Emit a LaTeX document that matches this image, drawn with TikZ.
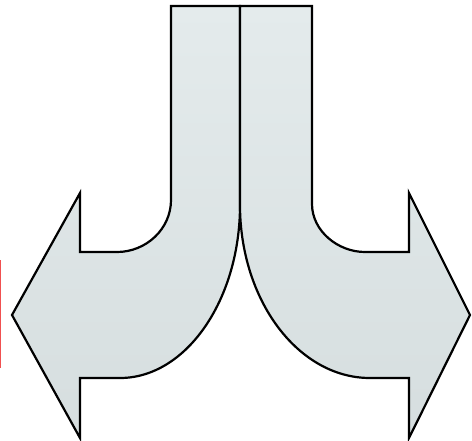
\documentclass[tikz,border=0pt]{standalone}
\definecolor{arrowfill}{RGB}{221,228,229}
\definecolor{arrowlight}{RGB}{228,235,236}
\definecolor{arrowdark}{RGB}{214,222,223}
\definecolor{redmark}{RGB}{240,80,80}
\tikzset{
  bentarrow/.style={draw=black, line width=2.2pt, line join=miter, top color=arrowlight, bottom color=arrowdark},
}
\begin{document}
\begin{tikzpicture}[x=1pt,y=-1pt]
\useasboundingbox (0,0) rectangle (472,440);
% left arrow
\path[bentarrow] (171,6) -- (240,6) -- (240,205)
  .. controls (240,300) and (186,378) .. (120,378)
  -- (80,378) -- (80,438) -- (12,315) -- (80,193) -- (80,252) -- (117,252)
  .. controls (146,252) and (171,229) .. (171,200) -- cycle;
% right arrow
\path[bentarrow] (240,6) -- (312,6) -- (312,204)
  .. controls (312,231) and (338,252) .. (365,252)
  -- (409,252) -- (409,193) -- (470,315) -- (409,438) -- (409,378) -- (370,378)
  .. controls (298,378) and (240,300) .. (240,205) -- cycle;
% red mark at left edge
\draw[redmark, line width=1pt] (0.5,260) -- (0.5,368);
\end{tikzpicture}
\end{document}
